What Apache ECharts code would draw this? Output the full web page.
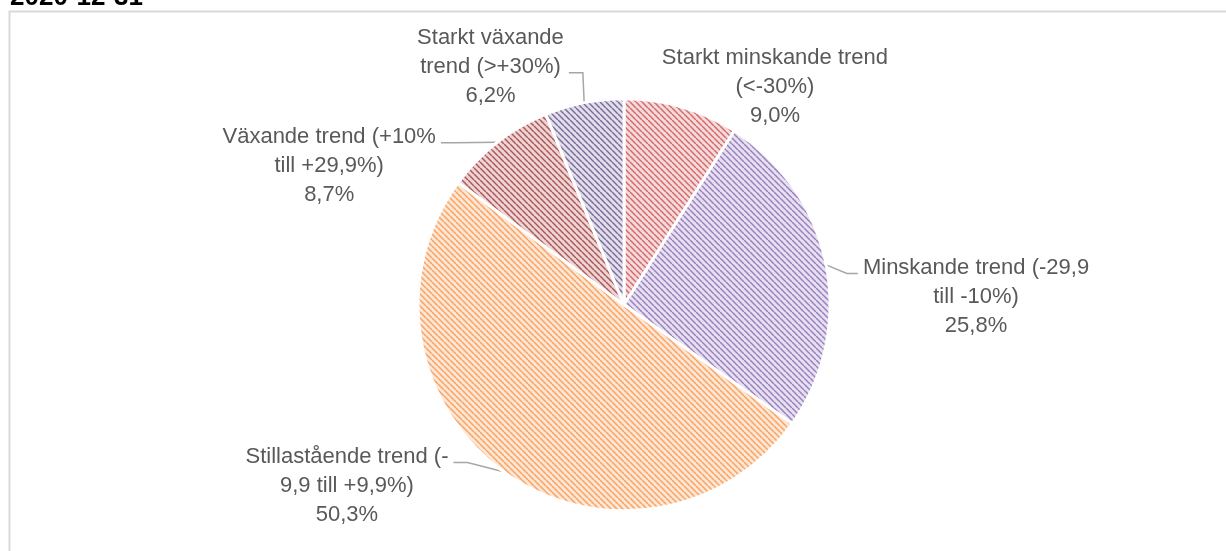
<!DOCTYPE html>
<html>
<head>
<meta charset="utf-8">
<script src="https://cdn.jsdelivr.net/npm/echarts@6/dist/echarts.min.js"></script>
<style>
  html, body { margin: 0; padding: 0; background: #fff; }
  #chart { width: 1226px; height: 551px; }
</style>
</head>
<body>
<div id="chart"></div>
<script>
  // andelar per trendklass
  var categories = [
    'Starkt minskande trend (<-30%)',
    'Minskande trend (-29,9 till -10%)',
    'Stillastående trend (-9,9 till +9,9%)',
    'Växande trend (+10% till +29,9%)',
    'Starkt växande trend (>+30%)'
  ]
  var values = [9.0, 25.8, 50.3, 8.7, 6.2]
  // etiketter med radbrytningar som i originalet
  var labelNames = [
    'Starkt minskande trend\n(<-30%)',
    'Minskande trend (-29,9\ntill -10%)',
    'Stillastående trend (-\n9,9 till +9,9%)',
    'Växande trend (+10%\ntill +29,9%)',
    'Starkt växande\ntrend (>+30%)'
  ]
  var fills = [
    ['#f4dada', 'rgba(200,70,72,0.75)'],
    ['#e6e0f0', 'rgba(128,96,172,0.75)'],
    ['#fde6d3', 'rgba(246,140,60,0.75)'],
    ['#f0d4d4', 'rgba(145,50,52,0.75)'],
    ['#e2deec', 'rgba(88,72,125,0.75)']
  ]
  // flytt av etiketterna (dx, dy) och vilken rad linjen ska gå till
  var labelShift = [[-48, -8], [0, 34], [-23, 4], [11, -14], [7, -24]]
  var lineRow = [0, 0, 0, 0, 1]
  var LH = 29

  function makePattern(bg, fg) {
    var c = document.createElement('canvas')
    c.width = 6
    c.height = 6
    var ctx = c.getContext('2d')
    ctx.fillStyle = bg
    ctx.fillRect(0, 0, 6, 6)
    ctx.strokeStyle = fg
    ctx.lineWidth = 1.5
    ;[-6, 0, 6].forEach(function (k) {
      ctx.beginPath()
      ctx.moveTo(k, 0)
      ctx.lineTo(k + 6, 6)
      ctx.stroke()
    })
    return c
  }

  var chart = echarts.init(document.getElementById('chart'))

  var data = categories.map(function (name, i) {
    return {
      name: name,
      value: values[i],
      itemStyle: {
        color: { image: makePattern(fills[i][0], fills[i][1]), repeat: 'repeat' }
      },
      labelLine: { show: i !== 0 }
    }
  })

  chart.setOption({
    animation: false,
    graphic: [
      {
        type: 'rect',
        shape: { x: 9.5, y: 11.5, width: 1400, height: 700 },
        style: { fill: 'none', stroke: '#d9d9d9', lineWidth: 2 },
        silent: true
      },
      {
        type: 'text',
        style: {
          x: 10, y: -15, text: '2020-12-31',
          font: 'bold 26px "Liberation Sans"', fill: '#000'
        }
      }
    ],
    series: [{
      type: 'pie',
      center: ['50.9%', '55.3%'],
      radius: 206,
      startAngle: 90,
      data: data,
      itemStyle: { borderColor: '#fff', borderWidth: 3 },
      label: {
        show: true,
        position: 'outside',
        color: '#595959',
        fontFamily: 'Liberation Sans',
        fontSize: 22,
        lineHeight: LH,
        formatter: function (p) {
          var lines = (labelNames[p.dataIndex] + '\n' + p.value.toFixed(1).replace('.', ',') + '%').split('\n')
          return lines.map(function (s) { return '{c|' + s + '}' }).join('\n')
        },
        rich: {
          c: { align: 'center', fontSize: 22, lineHeight: LH, color: '#595959', fontFamily: 'Liberation Sans' }
        }
      },
      labelLine: {
        length: 12,
        length2: 20,
        lineStyle: { color: '#a6a6a6', width: 1.5 }
      },
      labelLayout: function (p) {
        var i = p.dataIndex
        var dx = labelShift[i][0]
        var dy = labelShift[i][1]
        var out = { dx: dx, dy: dy }
        var pts = p.labelLinePoints
        if (pts && pts.length) {
          var r = p.labelRect
          var x0 = r.x + dx
          var y = r.y + dy + LH / 2 + lineRow[i] * LH + 6
          var rightSide = pts[0][0] < x0
          var endX = rightSide ? x0 - 5 : x0 + r.width + 5
          var midX = rightSide ? endX - 11 : endX + 14
          out.labelLinePoints = [pts[0], [midX, y], [endX, y]]
        }
        return out
      }
    }]
  })
</script>
</body>
</html>
